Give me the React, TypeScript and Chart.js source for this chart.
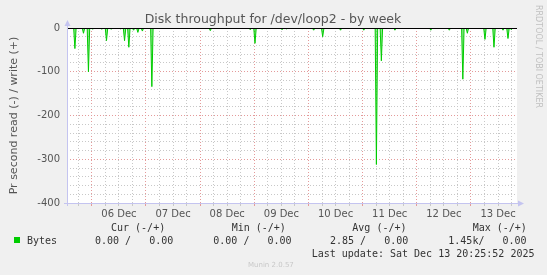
import React, { useEffect, useRef } from "react";
import { Chart, registerables } from "chart.js";
Chart.register(...registerables);

const TITLE = "Disk throughput for /dev/loop2 - by week";
const Y_LABEL = "Pr second read (-) / write (+)";
const WATERMARK = "RRDTOOL / TOBI OETIKER";
const FOOTER = "Munin 2.0.57";
const DAY_LABELS = ["06 Dec", "07 Dec", "08 Dec", "09 Dec", "10 Dec", "11 Dec", "12 Dec", "13 Dec"];
// x values: hours since 06 Dec 00:00
const X_MIN = -11;
const X_MAX = 188.4;
const Y_MIN = -400;
const Y_MAX = 0;
const Y_LABEL_TICKS = [0, -100, -200, -300, -400];

// read (-) spikes
const readHours = [
  -10.8, -7.5, -3.7, -1.5, 0.4, 4.4, 6.5, 8.6, 12.6, 14.5, 16.4, 18.5, 20.4, 22.4, 26.6,
  52.5, 70.2, 72.3, 84.3, 86.2, 98.3, 102.3, 110.2, 120.5, 126.1, 128.3, 134.3, 150.2,
  158.4, 164.4, 166.4, 174.2, 178.2, 182.2, 184.4, 185.9,
];
const readValues = [
  -3, -47, -12, -100, -3, -3, -29, -3, -2, -29, -44, -5, -10, -7, -134,
  -6, -4, -35, -4, -2, -5, -20, -5, -5, -312, -75, -5, -5,
  -5, -117, -12, -26, -44, -5, -24, -4,
];

const SERIES_NAME = "Bytes";
const LEGEND_HEADERS = ["Cur (-/+)", "Min (-/+)", "Avg (-/+)", "Max (-/+)"];
const LEGEND_VALUES = ["0.00 /   0.00", "0.00 /   0.00", "2.85 /   0.00", "1.45k/   0.00"];
const LAST_UPDATE = "Last update: Sat Dec 13 20:25:52 2025";

const GREEN = "#00cc00";
const RED_GRID = "#e49a9a";
const GRAY_GRID = "#c8c8c8";
const AXIS = "#c4c4f0";

export default function App() {
  const ref = useRef<HTMLCanvasElement>(null);
  useEffect(() => {
    document.body.style.margin = "0";
    document.body.style.background = "#f0f0f0";
    const canvas = ref.current!;
    const pts: { x: number; y: number }[] = [{ x: X_MIN, y: 0 }];
    readHours.forEach((h, i) => {
      pts.push({ x: h - 0.55, y: 0 }, { x: h, y: readValues[i] }, { x: h + 0.55, y: 0 });
    });
    pts.push({ x: X_MAX, y: 0 });

    const deco = {
      id: "deco",
      beforeDraw(chart: any) {
        const { ctx, chartArea: a } = chart;
        ctx.save();
        ctx.fillStyle = "#f0f0f0";
        ctx.fillRect(0, 0, chart.width, chart.height);
        ctx.fillStyle = "#ffffff";
        ctx.fillRect(a.left, a.top, a.right - a.left, a.bottom - a.top);
        ctx.restore();
      },
      afterDraw(chart: any) {
        const { ctx, chartArea: a, scales } = chart;
        const y0 = Math.round(scales.y.getPixelForValue(0)) + 0.5;
        ctx.save();
        // zero rule
        ctx.strokeStyle = "#000";
        ctx.lineWidth = 1;
        ctx.beginPath();
        ctx.moveTo(a.left, y0);
        ctx.lineTo(a.right, y0);
        ctx.stroke();
        // axes
        ctx.strokeStyle = AXIS;
        ctx.beginPath();
        ctx.moveTo(a.left + 0.5, a.bottom + 3);
        ctx.lineTo(a.left + 0.5, a.top - 4);
        ctx.moveTo(a.left - 3, a.bottom + 0.5);
        ctx.lineTo(a.right + 4, a.bottom + 0.5);
        ctx.stroke();
        ctx.fillStyle = AXIS;
        ctx.beginPath();
        ctx.moveTo(a.left + 0.5, a.top - 8);
        ctx.lineTo(a.left - 2.5, a.top - 2);
        ctx.lineTo(a.left + 3.5, a.top - 2);
        ctx.closePath();
        ctx.fill();
        ctx.beginPath();
        ctx.moveTo(a.right + 7, a.bottom + 0.5);
        ctx.lineTo(a.right + 1, a.bottom - 2.5);
        ctx.lineTo(a.right + 1, a.bottom + 3.5);
        ctx.closePath();
        ctx.fill();
        // title
        ctx.fillStyle = "#555";
        ctx.font = "12.5px 'DejaVu Sans'";
        ctx.textAlign = "center";
        ctx.textBaseline = "alphabetic";
        ctx.fillText(TITLE, 273, 23);
        // y label
        ctx.save();
        ctx.translate(14, (a.top + a.bottom) / 2);
        ctx.rotate(-Math.PI / 2);
        ctx.font = "11px 'DejaVu Sans'";
        ctx.textBaseline = "middle";
        ctx.fillText(Y_LABEL, 0, 0);
        ctx.restore();
        // watermark
        ctx.save();
        ctx.translate(538, 5);
        ctx.rotate(Math.PI / 2);
        ctx.fillStyle = "#c0c0c0";
        ctx.font = "8px 'DejaVu Sans'";
        ctx.textAlign = "left";
        ctx.textBaseline = "middle";
        ctx.fillText(WATERMARK, 0, 0);
        ctx.restore();
        // legend
        ctx.fillStyle = GREEN;
        ctx.fillRect(14, 237, 6, 6);
        ctx.fillStyle = "#333";
        ctx.font = "10px 'DejaVu Sans Mono'";
        ctx.textAlign = "left";
        ctx.fillText(SERIES_NAME, 27, 244);
        const hx = [111, 231.7, 352.3, 472.7];
        const vx = [95, 213.3, 330, 448.3];
        LEGEND_HEADERS.forEach((t, i) => ctx.fillText(t, hx[i], 231));
        LEGEND_VALUES.forEach((t, i) => ctx.fillText(t, vx[i], 244));
        ctx.fillText(LAST_UPDATE, 311.7, 256.5);
        ctx.fillStyle = "#c8c8c8";
        ctx.font = "7px 'DejaVu Sans'";
        ctx.fillText(FOOTER, 248, 267);
        ctx.restore();
      },
    };

    const chart = new Chart(canvas, {
      type: "line",
      data: {
        datasets: [
          {
            label: SERIES_NAME,
            data: pts,
            borderColor: GREEN,
            backgroundColor: "rgba(0,204,0,0.45)",
            borderWidth: 1,
            pointRadius: 0,
            fill: "origin",
            tension: 0,
          },
        ],
      },
      options: {
        animation: false,
        responsive: false,
        devicePixelRatio: 1,
        layout: { padding: { top: 28, right: 30, left: 0, bottom: 0 } },
        plugins: { legend: { display: false }, tooltip: { enabled: false }, title: { display: false } },
        scales: {
          x: {
            type: "linear",
            min: X_MIN,
            max: X_MAX,
            afterFit: (s: any) => {
              s.height = 72;
            },
            border: { display: false, dash: [1, 2] },
            grid: {
              color: (c: any) => (c.tick && c.tick.value % 24 === 0 ? RED_GRID : GRAY_GRID),
              tickColor: (c: any) => (c.tick && c.tick.value % 24 === 0 ? RED_GRID : GRAY_GRID),
              tickLength: 3,
              lineWidth: 1,
            },
            ticks: {
              stepSize: 6,
              includeBounds: false,
              autoSkip: false,
              maxRotation: 0,
              padding: 2,
              color: "#555",
              font: { family: "DejaVu Sans", size: 10 },
              callback: (v: any) => {
                const k = (Number(v) - 12) / 24;
                return Number.isInteger(k) && k >= 0 && k < DAY_LABELS.length ? DAY_LABELS[k] : "";
              },
            },
          },
          y: {
            min: Y_MIN,
            max: Y_MAX,
            afterFit: (s: any) => {
              s.width = 67;
            },
            border: { display: false, dash: [1, 2] },
            grid: {
              color: (c: any) => (c.tick && c.tick.value % 100 === 0 ? RED_GRID : GRAY_GRID),
              drawTicks: false,
              lineWidth: 1,
            },
            ticks: {
              stepSize: 20,
              autoSkip: false,
              padding: 7,
              color: "#555",
              font: { family: "DejaVu Sans", size: 10 },
              callback: (v: any) => (Y_LABEL_TICKS.includes(Number(v)) ? String(v) : ""),
            },
          },
        },
      },
      plugins: [deco],
    });
    return () => chart.destroy();
  }, []);
  return <canvas ref={ref} width={547} height={275} style={{ display: "block", width: 547, height: 275 }} />;
}
